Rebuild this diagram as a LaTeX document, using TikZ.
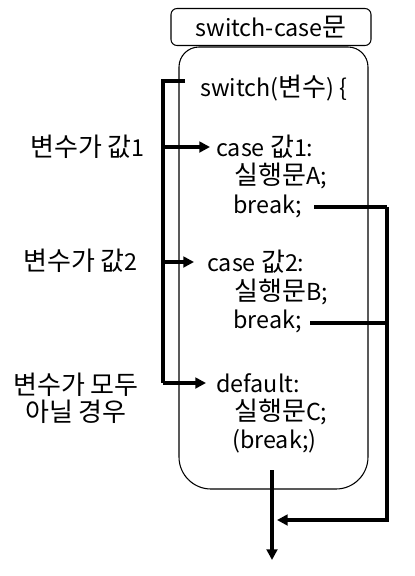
\documentclass[tikz,border=0pt]{standalone}
\usepackage{fontspec}
\setmainfont{Noto Sans CJK KR}
\newfontfamily\krfont{Noto Sans CJK KR}
\newcommand\kr[1]{{\krfont\fontsize{19.5}{22}\selectfont #1}}
\usetikzlibrary{arrows.meta}
\begin{document}
\begin{tikzpicture}[x=0.75pt,y=-0.75pt,
  txt/.style={inner sep=0pt,anchor=west,font=\fontsize{17.5}{20}\selectfont},
  lbl/.style={inner sep=0pt,font=\fontsize{17.5}{20}\selectfont},
  thk/.style={line width=3pt},
  arr/.style={thk,-{Triangle[length=8pt,width=8pt]}},
  outline/.style={draw,line width=0.8pt}]
\useasboundingbox (0,0) rectangle (415,576);
% main box
\draw[line width=0.8pt] (179,300) [rounded corners=15pt] -- (179,47) -- (368,47) -- (368,300) [rounded corners=24pt] -- (368,489) -- (179,489) -- cycle;
% title
\node[outline,rounded corners=4.5pt,minimum width=150pt,minimum height=27.75pt,lbl] (title) at (271,27) {switch-case\kr{문}};
% code text
\node[txt] (sw) at (200,88) {switch(\kr{변수}) \{};
\node[txt] (c1) at (216,147) {case \kr{값}1:};
\node[txt] (a) at (234,176) {\kr{실행문}A;};
\node[txt] (b1) at (233,206) {break;};
\node[txt] (c2) at (207,262) {case \kr{값}2:};
\node[txt] (b) at (234,292) {\kr{실행문}B;};
\node[txt] (b2) at (233,321) {break;};
\node[txt] (df) at (216,383) {default:};
\node[txt] (c) at (234,412) {\kr{실행문}C;};
\node[txt] (b3) at (232,441) {(break;)};
% left labels
\node[lbl,anchor=east] (l1) at (145,147) {\kr{변수가 값}1};
\node[lbl,anchor=east] (l2) at (138,261) {\kr{변수가 값}2};
\node[lbl,align=center] (l3) at (76,398) {\kr{변수가 모두}\\[0pt]\kr{아닐 경우}};
% bracket
\coordinate (top) at (185,81);
\coordinate (v0) at (163,81);
\coordinate (v1) at (163,147);
\coordinate (v2) at (163,262);
\coordinate (v3) at (163,383);
\coordinate (t1) at (210,147);
\coordinate (t2) at (194,262);
\coordinate (t3) at (206,383);
\draw[thk] (top) -- (v0) -- (v3);
\draw[arr] (v1) -- (t1);
\draw[arr] (v2) -- (t2);
\draw[arr] (v3) -- (t3);
% break lines
\coordinate (s1) at (314,207);
\coordinate (s2) at (310,323);
\coordinate (r1) at (387,207);
\coordinate (r2) at (387,323);
\coordinate (r3) at (387,520);
\coordinate (jn) at (277,520);
\coordinate (outT) at (272,470);
\coordinate (outB) at (272,560);
\draw[thk] (s1) -- (r1);
\draw[thk] (s2) -- (r2);
\draw[arr] (r1) -- (r3) -- (jn);
\draw[arr] (outT) -- (outB);
\end{tikzpicture}
\end{document}
